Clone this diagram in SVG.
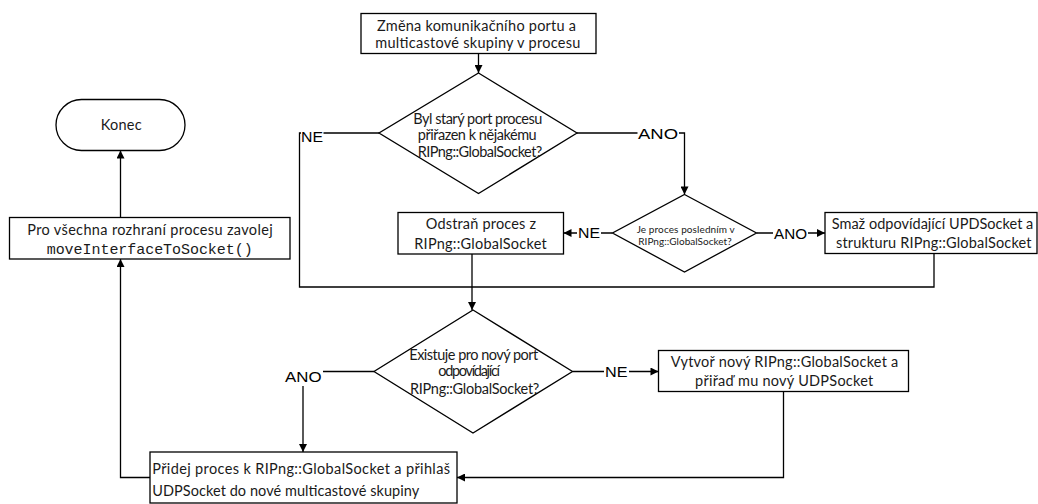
<svg xmlns="http://www.w3.org/2000/svg" width="1038" height="504" viewBox="0 0 1038 504">
  <style>
    .shape { fill: #fff; stroke: #000; stroke-width: 1.3; }
    .wire { fill: none; stroke: #000; stroke-width: 1.3; }
    .txt { font-family: Lato, "Liberation Sans", sans-serif; font-size: 14.5px; fill: #1a1a1a; }
    .small { font-family: Lato, "Liberation Sans", sans-serif; font-size: 10px; fill: #1a1a1a; }
    .mono { font-family: "Liberation Mono", "DejaVu Sans Mono", monospace; font-size: 15px; fill: #1a1a1a; }
    .lbl { font-family: "Liberation Sans", Arial, sans-serif; font-size: 14px; fill: #000; }
    .bg { fill: #fff; }
  </style>
  <defs>
    <marker id="arrow" viewBox="0 0 10 10" refX="10" refY="5" markerWidth="9" markerHeight="8" markerUnits="userSpaceOnUse" orient="auto">
      <path d="M0,0 L10,5 L0,10 z" fill="#000"/>
    </marker>
  </defs>

  <rect width="1038" height="504" fill="#fff"/>

  <!-- connectors -->
  <g id="connectors">
    <path class="wire" d="M478.5,53.5 V73" marker-end="url(#arrow)"/>
    <path class="wire" d="M379,133 H299.5 V287 H472"/>
    <path class="wire" d="M577,133 H684.5 V194.5" marker-end="url(#arrow)"/>
    <path class="wire" d="M612.5,233 H563.5" marker-end="url(#arrow)"/>
    <path class="wire" d="M756.5,233 H825" marker-end="url(#arrow)"/>
    <path class="wire" d="M934,253.5 V287 H472"/>
    <path class="wire" d="M472,254 V310" marker-end="url(#arrow)"/>
    <path class="wire" d="M572.5,371.5 H658.5" marker-end="url(#arrow)"/>
    <path class="wire" d="M374,371.5 H303 V452" marker-end="url(#arrow)"/>
    <path class="wire" d="M783.5,391.5 V477.5 H457" marker-end="url(#arrow)"/>
    <path class="wire" d="M150,477.5 H120.5 V259" marker-end="url(#arrow)"/>
    <path class="wire" d="M120.5,217.5 V150.5" marker-end="url(#arrow)"/>

    <!-- branch labels -->
    <rect class="bg" x="301" y="131" width="22.5" height="13"/>
    <text class="lbl" x="301" y="141.7" textLength="22" lengthAdjust="spacingAndGlyphs">NE</text>
    <rect class="bg" x="637.5" y="127" width="41.5" height="13"/>
    <text class="lbl" x="638" y="138.5" textLength="40" lengthAdjust="spacingAndGlyphs">ANO</text>
    <rect class="bg" x="577" y="227" width="24" height="13"/>
    <text class="lbl" x="578" y="238.3" textLength="22" lengthAdjust="spacingAndGlyphs">NE</text>
    <rect class="bg" x="773" y="227" width="35" height="13"/>
    <text class="lbl" x="774" y="238.5" textLength="33" lengthAdjust="spacingAndGlyphs">ANO</text>
    <rect class="bg" x="604" y="364" width="25" height="14"/>
    <text class="lbl" x="605" y="376.5" textLength="22.5" lengthAdjust="spacingAndGlyphs">NE</text>
    <rect class="bg" x="284" y="369" width="39" height="17"/>
    <text class="lbl" x="285" y="381.7" textLength="36.5" lengthAdjust="spacingAndGlyphs">ANO</text>
  </g>

  <!-- nodes -->
  <g id="start">
    <rect class="shape" x="361" y="13.5" width="235" height="40"/>
    <text class="txt" x="377" y="30.5" textLength="199">Změna komunikačního portu a</text>
    <text class="txt" x="375.3" y="48.3" textLength="205">multicastové skupiny v procesu</text>
  </g>

  <g id="old-port">
    <polygon class="shape" points="478.5,73 577,133 478.5,193.5 379,133"/>
    <text class="txt" x="413.3" y="124.3" textLength="129">Byl starý port procesu</text>
    <text class="txt" x="417.7" y="140.3" textLength="119">přiřazen k nějakému</text>
    <text class="txt" x="417.7" y="156.5" textLength="124.6">RIPng::GlobalSocket?</text>
  </g>

  <g id="last-process">
    <polygon class="shape" points="684.5,194.5 756.5,233 684.5,272 612.5,233"/>
    <text class="small" x="636.7" y="232.5" textLength="98">Je proces posledním v</text>
    <text class="small" x="638.3" y="245.3" textLength="93.4">RIPng::GlobalSocket?</text>
  </g>

  <g id="remove-process">
    <rect class="shape" x="398" y="212.5" width="165.5" height="41.5"/>
    <text class="txt" x="425.7" y="229" textLength="110.3">Odstraň proces z</text>
    <text class="txt" x="414.3" y="248.5" textLength="132.4">RIPng::GlobalSocket</text>
  </g>

  <g id="delete-socket">
    <rect class="shape" x="825" y="212.5" width="212" height="41"/>
    <text class="txt" x="831.7" y="228.5" textLength="201.6">Smaž odpovídající UPDSocket a</text>
    <text class="txt" x="836" y="248.3" textLength="195.5">strukturu RIPng::GlobalSocket</text>
  </g>

  <g id="new-port">
    <polygon class="shape" points="473,310 572.5,371.5 473,433 374,371.5"/>
    <text class="txt" x="409.3" y="359.5" textLength="129">Existuje pro nový port</text>
    <text class="txt" x="438.3" y="376.3" textLength="61.7">odpovídající</text>
    <text class="txt" x="410" y="393.8" textLength="129.3">RIPng::GlobalSocket?</text>
  </g>

  <g id="create-socket">
    <rect class="shape" x="658.5" y="350.5" width="250" height="41"/>
    <text class="txt" x="670.7" y="366.8" textLength="227.6">Vytvoř nový RIPng::GlobalSocket a</text>
    <text class="txt" x="695" y="386.3" textLength="178.3">přiřaď mu nový UDPSocket</text>
  </g>

  <g id="join-group">
    <rect class="shape" x="150" y="452" width="307" height="51"/>
    <text class="txt" x="152.3" y="474" textLength="297.7">Přidej proces k RIPng::GlobalSocket a přihlaš</text>
    <text class="txt" x="152.3" y="495.5" textLength="267">UDPSocket do nové multicastové skupiny</text>
  </g>

  <g id="move-interfaces">
    <rect class="shape" x="9.5" y="217.5" width="280.5" height="41.5"/>
    <text class="txt" x="27.3" y="235" textLength="245.4">Pro všechna rozhraní procesu zavolej</text>
    <text class="mono" x="46.7" y="253.5" textLength="206">moveInterfaceToSocket()</text>
  </g>

  <g id="end">
    <rect class="shape" x="56" y="99.5" width="129" height="51" rx="25.5" ry="25.5"/>
    <text class="txt" x="100.7" y="130" textLength="41">Konec</text>
  </g>
</svg>
